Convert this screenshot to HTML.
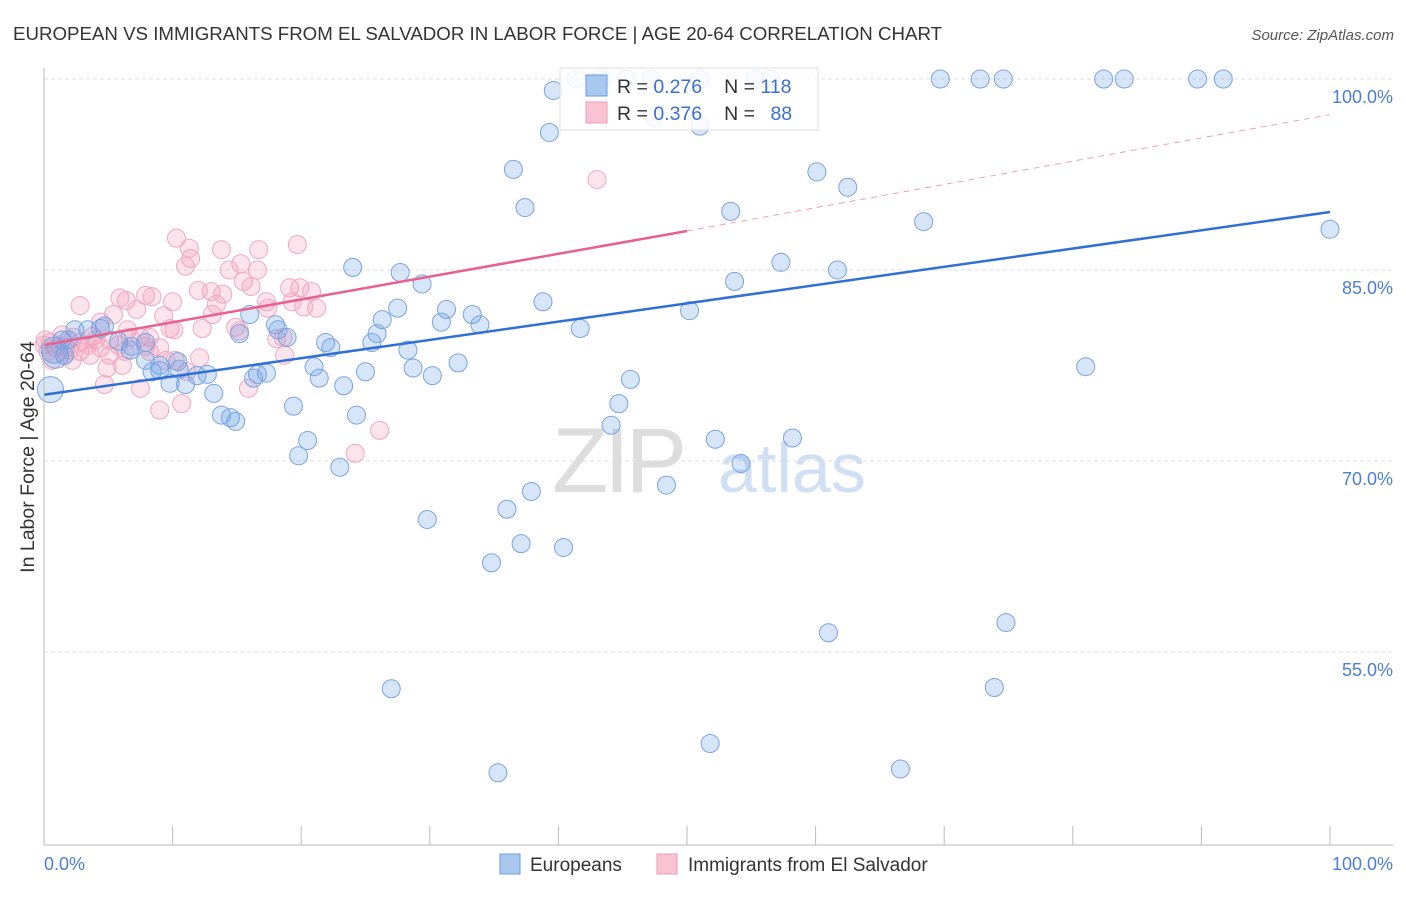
<!DOCTYPE html>
<html><head><meta charset="utf-8"><style>
body{margin:0;background:#fff;font-family:"Liberation Sans",sans-serif;}
svg text{font-family:"Liberation Sans",sans-serif;}
</style></head><body>
<svg id="chart" width="1406" height="892" xmlns="http://www.w3.org/2000/svg">
<text x="13" y="40" font-size="18.7" fill="#333">EUROPEAN VS IMMIGRANTS FROM EL SALVADOR IN LABOR FORCE | AGE 20-64 CORRELATION CHART</text>
<text x="1394" y="40" font-size="15" fill="#555" font-style="italic" text-anchor="end">Source: ZipAtlas.com</text>
<g>
<text x="552" y="492" font-size="92" fill="#ddd" font-family="Liberation Serif" letter-spacing="-4">ZIP</text>
<text x="718" y="492" font-size="70" fill="#cfe0f4">atlas</text>
</g>
<g id="grid"></g>
<g id="pts"></g>
<g id="trend"></g>
<line x1="44" y1="68" x2="44" y2="845" stroke="#bbb"/>
<line x1="44" y1="845" x2="1393" y2="845" stroke="#bbb"/>
<text transform="translate(34,457) rotate(-90)" font-size="19.5" fill="#333" text-anchor="middle">In Labor Force | Age 20-64</text>
<text x="44" y="870" font-size="18" fill="#4a7fd4">0.0%</text>
<text x="1393" y="870" font-size="18" fill="#4a7fd4" text-anchor="end">100.0%</text>
<g>
<rect x="560" y="68" width="258" height="62" fill="#fff" fill-opacity="0.85" stroke="#ddd"/>
<rect x="586" y="75" width="21" height="21" fill="#a9c8f0" stroke="#6b9be0"/>
<rect x="586" y="102" width="21" height="21" fill="#f8c3d3" stroke="#f09ab5"/>
<text x="617" y="93" font-size="19.5" fill="#333">R = <tspan fill="#3a6fd0">0.276</tspan><tspan dx="22">N = </tspan><tspan fill="#3a6fd0">118</tspan></text>
<text x="617" y="120" font-size="19.5" fill="#333">R = <tspan fill="#3a6fd0">0.376</tspan><tspan dx="22">N = </tspan><tspan dx="10" fill="#3a6fd0">88</tspan></text>
</g>
<g>
<rect x="500" y="854" width="20" height="20" fill="#a9c8f0" stroke="#6b9be0"/>
<text x="530" y="871" font-size="19" fill="#333">Europeans</text>
<rect x="657" y="854" width="20" height="20" fill="#f8c3d3" stroke="#f09ab5"/>
<text x="688" y="871" font-size="19" fill="#333">Immigrants from El Salvador</text>
</g>
</svg>
<script>
const yTicks=[100,85,70,55];
const yTickLabels=["100.0%","85.0%","70.0%","55.0%"];
const xTicks=[0,10,20,30,40,50,60,70,80,90,100];
const blueX=[41.4,43.3,45.3,47.2,51.0,55.3,56.5,69.7,72.8,74.6,82.4,84.0,89.7,91.7,39.6,47.4,51.0,39.3,36.5,60.1,62.5,37.4,53.4,68.4,100,57.3,61.7,24.0,27.7,29.4,53.7,38.8,27.5,16.0,31.3,33.3,50.2,26.3,30.9,33.9,41.7,25.9,18.0,18.2,4.4,2.4,3.4,4.7,15.2,18.9,21.9,22.3,25.5,28.3,5.8,6.8,7.9,6.7,1.4,0.8,1.9,1.6,7.9,9.0,10.4,9.0,8.4,11.9,12.7,10.5,16.6,17.3,21.0,21.4,25.0,23.3,28.7,30.2,32.2,81.0,45.6,11.0,9.8,16.3,13.2,19.4,44.7,24.3,13.8,14.5,14.9,44.1,52.2,58.2,20.5,19.8,54.2,23.0,48.4,37.9,36.0,29.8,37.1,40.4,34.8,74.8,61.0,27.0,73.9,51.8,35.3,66.6,0.5,0.9];
const blueY=[100,100,100,100,100,100,100,100,100,100,100,100,100,100,99.1,97.0,96.3,95.8,92.9,92.7,91.5,89.9,89.6,88.8,88.2,85.6,85.0,85.2,84.8,83.9,84.1,82.5,82.0,81.5,81.9,81.5,81.8,81.1,80.9,80.7,80.4,80.0,80.7,80.3,80.4,80.3,80.3,80.6,80.0,79.7,79.3,78.9,79.3,78.7,79.4,79.0,79.3,78.7,79.5,78.7,79.5,78.3,77.9,77.5,77.8,77.1,77.0,76.7,76.8,77.2,76.8,76.9,77.4,76.5,77.0,75.9,77.3,76.7,77.7,77.4,76.4,76.0,76.1,76.5,75.3,74.3,74.5,73.6,73.6,73.4,73.1,72.8,71.7,71.8,71.6,70.4,69.8,69.5,68.1,67.6,66.2,65.4,63.5,63.2,62.0,57.3,56.5,52.1,52.2,47.8,45.5,45.8,75.6,78.3];
const pinkX=[43.0,10.3,11.3,13.8,16.7,19.7,11.4,11.0,15.3,14.4,16.6,15.5,12.0,2.8,5.9,7.9,8.4,6.4,10.0,13.0,13.9,16.1,17.3,19.1,19.9,20.8,21.2,20.2,19.3,17.4,13.4,13.1,9.3,7.2,5.4,4.4,6.5,9.8,10.1,12.3,14.9,15.2,18.1,18.6,3.8,7.5,8.2,0.1,0.5,1.2,1.7,2.0,0.9,0.3,2.8,3.6,4.4,5.1,5.8,6.7,7.9,8.2,10.2,12.1,11.1,9.5,6.1,4.9,4.7,7.5,10.7,9.0,15.9,18.7,9.0,2.3,1.4,4.0,26.1,24.2,1.6,0.6,0.0,2.8,5.1,2.2,3.4,6.3];
const pinkY=[92.1,87.5,86.7,86.6,86.6,87.0,85.9,85.3,85.5,85.0,85.0,84.1,83.4,82.2,82.8,83.0,82.9,82.6,82.5,83.3,83.1,83.7,82.5,83.6,83.6,83.3,82.0,82.1,82.5,82.0,82.3,81.5,81.4,81.9,81.5,80.9,80.3,80.4,80.3,80.4,80.5,80.2,79.6,79.7,79.8,79.7,79.7,79.5,79.3,79.1,78.9,78.7,78.9,78.6,78.6,78.3,78.9,79.5,79.1,79.7,79.0,78.6,77.9,78.1,77.0,77.9,77.5,77.3,76.0,75.7,74.5,74.0,75.7,78.3,78.9,79.7,79.9,79.5,72.4,70.6,78.3,77.9,79.1,79.3,78.3,77.9,79.1,78.6];
const blueTrend=[[0,75.2],[100,89.55]];
const pinkTrendSolid=[[0,79.1],[50,88.06]];
const pinkTrendDashed=[[50,88.06],[100,97.2]];
const NS="http://www.w3.org/2000/svg";
const X=v=>44+v*12.86;
const Y=v=>79+(100-v)*12.73;
function mk(t,a,p){const e=document.createElementNS(NS,t);for(const k in a)e.setAttribute(k,a[k]);p.appendChild(e);return e;}
const grid=document.getElementById('grid');
yTicks.forEach((t,i)=>{
 const l=mk('line',{x1:44,x2:1393,y1:Y(t),y2:Y(t),stroke:'#ddd','stroke-dasharray':'4,3'},grid);
 
 
 const tx=mk('text',{x:1393,y:Y(t)+24,'font-size':18,fill:'#4a7fd4','text-anchor':'end'},grid);
 tx.textContent=yTickLabels[i];
 
 
});
xTicks.forEach(t=>{
 const l=mk('line',{x1:X(t),x2:X(t),y1:826,y2:845,stroke:'#bbb'},grid);
 
 
});
const pts=document.getElementById('pts');
pinkX.forEach((x,i)=>{
 const c=mk('circle',{cx:X(x),cy:Y(pinkY[i]),r:9,fill:'rgba(244,150,180,0.26)',stroke:'#f0a8bf','stroke-width':1},pts);
 
 
});
blueX.forEach((x,i)=>{
 const c=mk('circle',{cx:X(x),cy:Y(blueY[i]),r:(x<1?13:9),fill:'rgba(110,160,230,0.28)',stroke:'#78a4e2','stroke-width':1},pts);
 
 
});
const tr=document.getElementById('trend');
const bl=mk('line',{x1:X(blueTrend[0][0]),y1:Y(blueTrend[0][1]),x2:X(blueTrend[1][0]),y2:Y(blueTrend[1][1]),stroke:'#2f6fd6','stroke-width':2.5},tr);


const ps=mk('line',{x1:X(pinkTrendSolid[0][0]),y1:Y(pinkTrendSolid[0][1]),x2:X(pinkTrendSolid[1][0]),y2:Y(pinkTrendSolid[1][1]),stroke:'#e8608e','stroke-width':2.5},tr);


const pd=mk('line',{x1:X(pinkTrendDashed[0][0]),y1:Y(pinkTrendDashed[0][1]),x2:X(pinkTrendDashed[1][0]),y2:Y(pinkTrendDashed[1][1]),stroke:'#eea0b8','stroke-width':1,'stroke-dasharray':'6,5'},tr);


</script>
</body></html>
